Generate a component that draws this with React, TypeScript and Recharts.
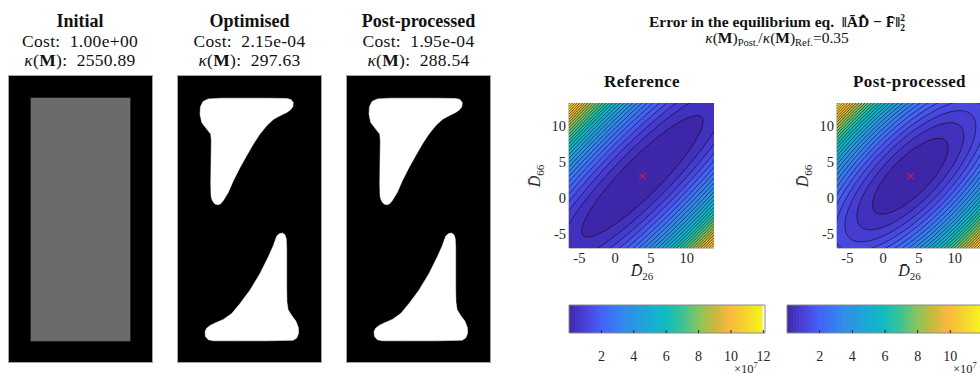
import React from 'react';
import { ScatterChart, Scatter, XAxis, YAxis, ReferenceArea } from 'recharts';

const FONT = "'Liberation Serif', 'DejaVu Serif', serif";

// ---------------- Left: topology panels ----------------
const panelTitles = ['Initial', 'Optimised', 'Post-processed'];
const panelCosts = ['1.00e+00', '2.15e-04', '1.95e-04'];
const panelKappas = ['2550.89', '297.63', '288.54'];

// grey block of the initial design (unit cell x:[0,1], y:[0,2])
const initialBlock: [number, number][] = [
  [0.153, 0.146], [0.847, 0.146], [0.847, 1.847], [0.153, 1.847],
];

// void outlines of the optimised design
const upperHoleOpt: [number, number][] = [
  [0.154, 1.733], [0.157, 1.785], [0.175, 1.822], [0.212, 1.840], [0.300, 1.845],
  [0.387, 1.845], [0.620, 1.845], [0.760, 1.843], [0.790, 1.835], [0.806, 1.814],
  [0.803, 1.785], [0.785, 1.762], [0.760, 1.745], [0.700, 1.715], [0.666, 1.695],
  [0.620, 1.652], [0.573, 1.594], [0.527, 1.524], [0.480, 1.443], [0.434, 1.361],
  [0.387, 1.268], [0.352, 1.187], [0.317, 1.129], [0.300, 1.108], [0.282, 1.100],
  [0.262, 1.104], [0.247, 1.117], [0.236, 1.140], [0.231, 1.164], [0.229, 1.245],
  [0.231, 1.408], [0.233, 1.547], [0.229, 1.594], [0.201, 1.629], [0.166, 1.675],
];
const lowerHoleOpt: [number, number][] = [
  [0.690, 0.880], [0.708, 0.897], [0.730, 0.902], [0.748, 0.890], [0.757, 0.862],
  [0.760, 0.803], [0.760, 0.664], [0.760, 0.525], [0.762, 0.420], [0.770, 0.365],
  [0.795, 0.325], [0.825, 0.285], [0.842, 0.240], [0.843, 0.200], [0.830, 0.168],
  [0.805, 0.152], [0.620, 0.148], [0.387, 0.148], [0.247, 0.148], [0.212, 0.156],
  [0.192, 0.178], [0.189, 0.211], [0.200, 0.236], [0.225, 0.256], [0.259, 0.272],
  [0.317, 0.298], [0.376, 0.339], [0.434, 0.409], [0.503, 0.502], [0.573, 0.618],
  [0.631, 0.734], [0.665, 0.810],
];
// post-processed design (visually identical outlines)
const upperHolePost: [number, number][] = upperHoleOpt;
const lowerHolePost: [number, number][] = lowerHoleOpt;

// ---------------- Right: error surfaces ----------------
const D26_DOMAIN: [number, number] = [-6.45, 13.8];
const D66_DOMAIN: [number, number] = [-6.95, 13.25];
const D26_TICKS = [-5, 0, 5, 10];
const D66_TICKS = [-5, 0, 5, 10];
const optimum = { x: 3.8, y: 3.05 };
const VALLEY_CURVATURE = 5.8e5; // error per unit^2 across the valley
const ANISO_REF = 4.45; // valley length / width ratio, reference
const ANISO_POST = 2.66; // valley length / width ratio, post-processed
const contourLevels = [
  0.4, 0.8, 1.2, 1.6, 2.0, 2.4, 2.8, 3.2, 3.6, 4.0, 4.4, 4.8, 5.2, 5.6, 6.0, 6.4,
  6.8, 7.2, 7.6, 8.0, 8.4, 8.8, 9.2, 9.6, 10.0, 10.4, 10.8, 11.2, 11.6, 12.0, 12.4, 12.8,
]; // x 1e7
const LEVEL_STEP = 0.4;
const CBAR_MAX_REF = 12.1;
const CBAR_MAX_POST = 12.0;
const CBAR_TICKS_REF = [2, 4, 6, 8, 10, 12];
const CBAR_TICKS_POST = [2, 4, 6, 8, 10];

const parulaStops: [number, string][] = [
  [0.0, '#3e26a8'], [0.08, '#4840d8'], [0.16, '#4660f6'], [0.25, '#3580f0'],
  [0.33, '#2a96e2'], [0.42, '#17aed4'], [0.5, '#10bcbc'], [0.58, '#3cc393'],
  [0.67, '#8ec45a'], [0.75, '#cdb83a'], [0.82, '#fbb83c'], [0.91, '#f4d72d'],
  [1.0, '#f8f81a'],
];

function hexToRgb(h: string) {
  return [parseInt(h.slice(1, 3), 16), parseInt(h.slice(3, 5), 16), parseInt(h.slice(5, 7), 16)];
}
function parula(t: number) {
  const c = Math.max(0, Math.min(1, t));
  for (let i = 0; i < parulaStops.length - 1; i++) {
    const [t0, h0] = parulaStops[i];
    const [t1, h1] = parulaStops[i + 1];
    if (c <= t1) {
      const f = (c - t0) / (t1 - t0);
      const a = hexToRgb(h0);
      const b = hexToRgb(h1);
      const r = a.map((v, k) => Math.round(v + (b[k] - v) * f));
      return `rgb(${r[0]},${r[1]},${r[2]})`;
    }
  }
  return parulaStops[parulaStops.length - 1][1];
}

function contourOutline(level: number, aniso: number) {
  const s = Math.sqrt((level * 1e7) / VALLEY_CURVATURE);
  const pts: { x: number; y: number }[] = [];
  const N = 120;
  for (let i = 0; i < N; i++) {
    const th = (2 * Math.PI * i) / N;
    const u = aniso * s * Math.cos(th);
    const v = s * Math.sin(th);
    pts.push({ x: optimum.x + (u - v) / Math.SQRT2, y: optimum.y + (u + v) / Math.SQRT2 });
  }
  return pts;
}

const NoDot = () => <g />;
const Cross = (props: any) => {
  const { cx, cy } = props;
  const s = 3.2;
  return (
    <g>
      <line x1={cx - s} y1={cy - s} x2={cx + s} y2={cy + s} stroke="#d6184f" strokeWidth={1.1} />
      <line x1={cx - s} y1={cy + s} x2={cx + s} y2={cy - s} stroke="#d6184f" strokeWidth={1.1} />
    </g>
  );
};

const tickStyle = { fontFamily: FONT, fontSize: 14.5, fill: '#262626' };
const cbarTickStyle = { fontFamily: FONT, fontSize: 14, fill: '#262626' };

function TopoPanel({ left, holes, block }: { left: number; holes: [number, number][][]; block?: [number, number][] }) {
  const shapes = block ? [{ pts: block, fill: '#6b6b6b' }] : holes.map((h) => ({ pts: h, fill: '#ffffff' }));
  return (
    <div style={{ position: 'absolute', left, top: 75, width: 145, height: 288, background: '#000', border: '1px solid #a3a3a3', boxSizing: 'border-box' }}>
      <ScatterChart width={143} height={286} margin={{ top: 0, right: 0, bottom: 0, left: 0 }}>
        <XAxis type="number" dataKey="x" domain={[0, 1]} hide />
        <YAxis type="number" dataKey="y" domain={[0, 2]} hide />
        {shapes.map((s, i) => (
          <Scatter
            key={i}
            data={s.pts.map(([x, y]) => ({ x, y }))}
            isAnimationActive={false}
            shape={NoDot}
            line={{ fill: s.fill, stroke: s.fill, strokeWidth: 0.5 }}
            lineJointType="linearClosed"
          />
        ))}
      </ScatterChart>
    </div>
  );
}

function ContourPanel({ left, aniso, cmax }: { left: number; aniso: number; cmax: number }) {
  const bands = contourLevels
    .slice()
    .reverse()
    .map((lvl) => ({ lvl, pts: contourOutline(lvl, aniso), color: parula((lvl - LEVEL_STEP) / cmax) }));
  return (
    <div style={{ position: 'absolute', left, top: 90 }}>
      <ScatterChart width={200} height={190} margin={{ top: 13, right: 6, bottom: 0, left: 0 }}>
        {bands.map((b) => (
          <Scatter
            key={b.lvl}
            xAxisId="b"
            yAxisId="l"
            data={b.pts}
            isAnimationActive={false}
            shape={NoDot}
            line={{ fill: b.color, stroke: '#0a0a0a', strokeWidth: 0.6 }}
            lineJointType="linearClosed"
          />
        ))}
        <Scatter xAxisId="b" yAxisId="l" data={[optimum]} isAnimationActive={false} shape={Cross} />
        <XAxis xAxisId="b" type="number" dataKey="x" domain={D26_DOMAIN} ticks={D26_TICKS} allowDataOverflow height={32}
          tickLine={false} tickSize={0} tickMargin={5} interval={0} axisLine={{ stroke: '#8a8a8a' }} tick={tickStyle} />
        <YAxis yAxisId="l" type="number" dataKey="y" domain={D66_DOMAIN} ticks={D66_TICKS} allowDataOverflow width={49}
          tickLine={false} tickSize={0} tickMargin={3} interval={0} axisLine={{ stroke: '#8a8a8a' }} tick={tickStyle} />
        <XAxis xAxisId="t" orientation="top" type="number" domain={D26_DOMAIN} allowDataOverflow height={0}
          tick={false} tickLine={false} axisLine={{ stroke: '#8a8a8a' }} />
        <YAxis yAxisId="r" orientation="right" type="number" domain={D66_DOMAIN} allowDataOverflow width={0}
          tick={false} tickLine={false} axisLine={{ stroke: '#8a8a8a' }} />
      </ScatterChart>
    </div>
  );
}

function ColorBar({ left, cmax, ticks }: { left: number; cmax: number; ticks: number[] }) {
  const cells = Array.from({ length: 64 }, (_, i) => ({
    x1: (i * cmax) / 64,
    x2: ((i + 1) * cmax) / 64,
    color: parula((i + 0.5) / 64),
  }));
  return (
    <div style={{ position: 'absolute', left, top: 300 }}>
      <ScatterChart width={226} height={70} margin={{ top: 5, right: 21, bottom: 0, left: 9 }}>
        <Scatter data={[{ x: 0, y: 0 }]} isAnimationActive={false} shape={NoDot} />
        {cells.map((c, i) => (
          <ReferenceArea key={i} x1={c.x1} x2={c.x2 + cmax / 300} y1={0} y2={1} fill={c.color} fillOpacity={1} stroke="none" />
        ))}
        <ReferenceArea x1={0} x2={cmax} y1={0} y2={1} fill="none" stroke="#8a8a8a" strokeWidth={1} />
        <XAxis type="number" dataKey="x" domain={[0, cmax]} ticks={ticks} interval={0} height={37} tickSize={-3} tickMargin={21}
          axisLine={false} tickLine={{ stroke: '#262626' }} tick={cbarTickStyle} />
        <YAxis type="number" dataKey="y" domain={[0, 1]} hide />
      </ScatterChart>
    </div>
  );
}

const panelCenters = [80, 249.5, 418.5];
const serif: React.CSSProperties = { fontFamily: FONT };

export default function App() {
  return (
    <div style={{ position: 'absolute', left: 0, top: 0, width: 980, height: 374, overflow: 'hidden', background: '#fff' }}>
      <TopoPanel left={8} holes={[]} block={initialBlock} />
      <TopoPanel left={177} holes={[upperHoleOpt, lowerHoleOpt]} />
      <TopoPanel left={346} holes={[upperHolePost, lowerHolePost]} />
      <ContourPanel left={520} aniso={ANISO_REF} cmax={CBAR_MAX_REF} />
      <ContourPanel left={788} aniso={ANISO_POST} cmax={CBAR_MAX_POST} />
      <ColorBar left={560} cmax={CBAR_MAX_REF} ticks={CBAR_TICKS_REF} />
      <ColorBar left={778} cmax={CBAR_MAX_POST} ticks={CBAR_TICKS_POST} />
      <svg width={980} height={374} style={{ position: 'absolute', left: 0, top: 0, pointerEvents: 'none', ...serif }} fill="#111">
        {panelTitles.map((t, i) => (
          <text key={'t' + i} x={panelCenters[i]} y={26.5} textAnchor="middle" fontWeight="bold" fontSize={18} style={serif}>{t}</text>
        ))}
        {panelCosts.map((c, i) => (
          <text key={'c' + i} x={panelCenters[i]} y={46.5} textAnchor="middle" fontSize={17.5} letterSpacing={0.3} style={serif}>{'Cost:\u00a0 ' + c}</text>
        ))}
        {panelKappas.map((k, i) => (
          <text key={'k' + i} x={panelCenters[i]} y={65.5} textAnchor="middle" fontSize={17.5} letterSpacing={0.3} style={serif}>
            <tspan fontStyle="italic">κ</tspan>(<tspan fontWeight="bold">M</tspan>):{'\u00a0 ' + k}
          </text>
        ))}
        <text x={777} y={27} textAnchor="middle" fontWeight="bold" fontSize={15.5} style={serif}>
          {'Error in the equilibrium eq.\u00a0 ‖ĀD̄̂ − F̄‖'}<tspan fontSize={9.5} dy={-6}>2</tspan><tspan fontSize={9.5} dx={-4.8} dy={9.5}>2</tspan>
        </text>
        <text x={777} y={42.5} textAnchor="middle" fontSize={15.5} style={serif}>
          <tspan fontStyle="italic">κ</tspan>(<tspan fontWeight="bold">M</tspan>)<tspan fontSize={10.5} dy={3}>Post.</tspan>
          <tspan dy={-3}>/</tspan><tspan fontStyle="italic">κ</tspan>(<tspan fontWeight="bold">M</tspan>)<tspan fontSize={10.5} dy={3}>Ref.</tspan>
          <tspan dy={-3}>=0.35</tspan>
        </text>
        <text x={642} y={86.5} textAnchor="middle" fontWeight="bold" fontSize={17} letterSpacing={0.4} style={serif}>Reference</text>
        <text x={909.5} y={86.5} textAnchor="middle" fontWeight="bold" fontSize={17} letterSpacing={0.4} style={serif}>Post-processed</text>
        {[642, 909.5].map((cx, i) => (
          <text key={'xl' + i} x={cx} y={276} textAnchor="middle" fontSize={16} fill="#262626" style={serif}>
            <tspan fontStyle="italic">D̄</tspan><tspan fontSize={11} dy={4}>26</tspan>
          </text>
        ))}
        {[540, 808].map((x, i) => (
          <text key={'yl' + i} transform={`translate(${x},176) rotate(-90)`} textAnchor="middle" fontSize={16} fill="#262626" style={serif}>
            <tspan fontStyle="italic">D̄</tspan><tspan fontSize={11} dy={4}>66</tspan>
          </text>
        ))}
        {[734, 953].map((x, i) => (
          <text key={'e' + i} x={x} y={372.5} fontSize={12.5} fill="#262626" style={serif}>
            ×10<tspan fontSize={8.5} dy={-4.5}>7</tspan>
          </text>
        ))}
      </svg>
    </div>
  );
}
